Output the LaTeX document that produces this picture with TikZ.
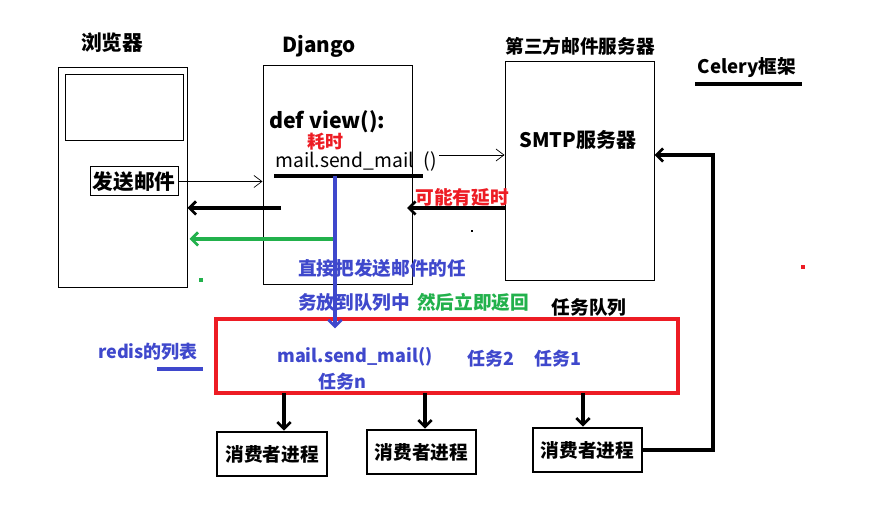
\documentclass[tikz,border=0pt]{standalone}
\usepackage{fontspec}
\setmainfont{Noto Sans CJK SC}
\usetikzlibrary{arrows.meta,calc}
\definecolor{pred}{RGB}{237,28,36}
\definecolor{pgreen}{RGB}{34,177,76}
\definecolor{pblue}{RGB}{63,72,204}
\tikzset{
  box/.style={draw,line width=0.75pt,inner sep=0pt},
  thickbox/.style={draw,line width=2.2pt,inner sep=0pt},
  txt/.style={inner sep=0pt,font=\bfseries\fontsize{#1}{#1}\selectfont},
  thinarrow/.style={line width=0.6pt,-{Straight Barb[length=6pt,width=9pt,line width=0.5pt]}},
  fatarrow/.style={line width=2.4pt,-{Straight Barb[length=5pt,width=10pt,line width=2pt]}},
  dot/.style={inner sep=0pt,minimum size=#1,fill}
}
\begin{document}
\begin{tikzpicture}[x=0.75pt,y=-0.75pt]
\useasboundingbox (0,0) rectangle (871,516);
% boxes
\node[box,minimum width=129*0.75pt,minimum height=220*0.75pt] (br) at (122.5,178) {};
\node[box,minimum width=118*0.75pt,minimum height=66*0.75pt] (scr) at (124,108) {};
\node[box,minimum width=88*0.75pt,minimum height=29*0.75pt,txt=15.5pt] (fs) at (134,181.5) {发送邮件};
\node[box,minimum width=149*0.75pt,minimum height=219*0.75pt] (dj) at (337.5,175.5) {};
\node[box,minimum width=149*0.75pt,minimum height=219*0.75pt] (smtp) at (579.5,171.5) {};
\node[draw=pred,line width=2.4pt,minimum width=462*0.75pt,minimum height=74*0.75pt] (q) at (447,356) {};
\node[thickbox,minimum width=110*0.75pt,minimum height=44*0.75pt,txt=14pt] (c1) at (272,454) {消费者进程};
\node[thickbox,minimum width=109*0.75pt,minimum height=44*0.75pt,txt=14pt] (c2) at (421.5,452) {消费者进程};
\node[thickbox,minimum width=109*0.75pt,minimum height=44*0.75pt,txt=14pt] (c3) at (587.5,450) {消费者进程};
% titles
\node[txt=15.5pt] (tbr) at (112,43) {浏览器};
\node[txt=15.5pt] (tdj) at (319,46) {Django};
\node[txt=14pt] (tsm) at (580,46) {第三方邮件服务器};
\node[txt=14pt] (tcel) at (747,68) {Celery框架};
\node[txt=14pt] (tq) at (589,307) {任务队列};
\node[txt=15pt] (smtpt) at (578,140) {SMTP服务器};
% django code
\node[txt=16pt,anchor=west] (dv) at (269,122) {def view():};
\node[inner sep=0pt,font=\fontsize{14.5pt}{14.5pt}\selectfont,anchor=west] (ms) at (275,161) {mail.send\_mail};
\node[inner sep=0pt,font=\fontsize{14.5pt}{14.5pt}\selectfont] (par) at (430,161) {()};
\node[txt=13.5pt,text=pred] (hs) at (325,142) {耗时};
\node[txt=14pt,text=pred] (yc) at (462,197) {可能有延时};
% blue/green text
\node[txt=14pt,text=pblue,anchor=west] (b1) at (298,268) {直接把发送邮件的任};
\node[txt=14pt,text=pblue,anchor=west] (b2) at (298,302) {务放到队列中};
\node[txt=14pt,text=pgreen,anchor=west] (g1) at (417,302) {然后立即返回};
\node[txt=13.5pt,text=pblue] (rl) at (148,352) {redis的列表};
\node[txt=13.5pt,text=pblue] (qm) at (355,357) {mail.send\_mail()};
\node[txt=13.5pt,text=pblue] (q2) at (491,359) {任务2};
\node[txt=13.5pt,text=pblue] (q1) at (558,359) {任务1};
\node[txt=13.5pt,text=pblue] (qn) at (342,382) {任务n};
% underlines
\coordinate (cu1) at (695,84); \coordinate (cu2) at (802,84);
\draw[line width=2.4pt] (cu1) -- (cu2);
\coordinate (ru1) at (157,369); \coordinate (ru2) at (203,369);
\draw[pblue,line width=2.4pt] (ru1) -- (ru2);
\coordinate (ml1) at (274,176); \coordinate (ml2) at (423,176);
\draw[line width=2.4pt] (ml1) -- (ml2);
% connectors
\draw[thinarrow] (fs.east) -- (fs.east -| dj.west);
\coordinate (p0) at (439,155);
\draw[thinarrow] (p0) -- (p0 -| smtp.west);
\coordinate (k1) at (281,208);
\draw[fatarrow] (k1) -- (k1 -| br.east);
\coordinate (k2) at (407,208);
\draw[fatarrow] (k2 -| smtp.west) -- (k2);
\coordinate (g0) at (335,239);
\draw[pgreen,fatarrow] (g0) -- ($(g0 -| br.east)+(2,0)$);
\coordinate (b0) at (335,176);
\draw[pblue,fatarrow] (b0) -- ($(b0 |- q.north)+(0,11)$);
\coordinate (a1) at (284,393); \coordinate (a2) at (425,393); \coordinate (a3) at (583,393);
\draw[fatarrow] (a1) -- (a1 |- c1.north);
\draw[fatarrow] (a2) -- (a2 |- c2.north);
\draw[fatarrow] (a3) -- (a3 |- c3.north);
\coordinate (cel) at (713,155);
\draw[fatarrow] (c3.east) -| (cel) -- (cel -| smtp.east);
% stray dots
\node[dot=2pt,black] (d1) at (472,231) {};
\node[dot=2.5pt,pgreen] (d2) at (201,280) {};
\node[dot=2.5pt,pred] (d3) at (803,267) {};
\end{tikzpicture}
\end{document}
